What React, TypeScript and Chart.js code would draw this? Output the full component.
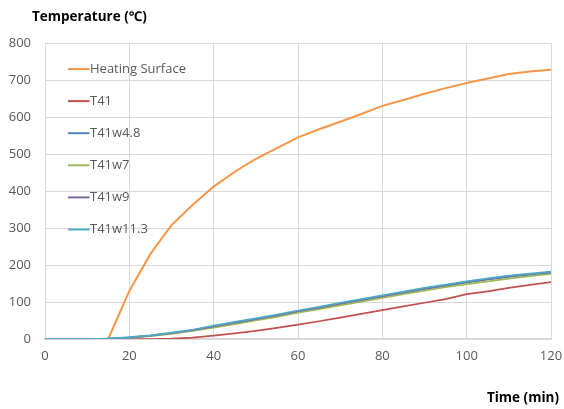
import React, { useEffect, useRef } from "react";
import { Chart, registerables } from "chart.js";

Chart.register(...registerables);

const times = [0, 5, 10, 15, 20, 25, 30, 35, 40, 45, 50, 55, 60, 65, 70, 75, 80, 85, 90, 95, 100, 105, 110, 115, 120];
const heatingSurface = [0, 0, 0, 0, 130, 230, 308, 362, 412, 452, 487, 516, 545, 567, 587, 608, 630, 646, 663, 678, 692, 704, 716, 723, 728];
const t41 = [0, 0, 0, 0, 0, 0, 1, 4, 9, 15, 22, 30, 39, 48, 58, 68, 78, 88, 98, 108, 121, 129, 138, 146, 154];
const t41w48 = [0, 0, 0, 1, 4, 9, 16, 24, 33, 43, 53, 63, 74, 84, 95, 105, 115, 125, 135, 144, 153, 161, 168, 174, 180];
const t41w7 = [0, 0, 0, 1, 3, 8, 14, 22, 31, 40, 50, 60, 71, 81, 91, 101, 111, 121, 131, 140, 148, 156, 163, 170, 176];
const t41w9 = [0, 0, 0, 1, 4, 9, 16, 24, 34, 44, 54, 64, 75, 85, 96, 106, 116, 126, 136, 145, 154, 162, 169, 175, 180];
const t41w113 = [0, 0, 0, 1, 5, 10, 17, 25, 36, 46, 56, 66, 77, 87, 98, 108, 118, 128, 138, 147, 156, 164, 171, 177, 182];

const seriesLabels = ["Heating Surface", "T41", "T41w4.8", "T41w7", "T41w9", "T41w11.3"];
const seriesValues = [heatingSurface, t41, t41w48, t41w7, t41w9, t41w113];
const seriesColors = ["#F79646", "#C0504D", "#4F81BD", "#9BBB59", "#8064A2", "#4BACC6"];

const yTitle = "Temperature (℃)";
const xTitle = "Time (min)";
const FONT = "'Open Sans', 'Noto Sans', sans-serif";

const overlayPlugin = {
  id: "overlay",
  afterDraw(chart: any) {
    const ctx = chart.ctx;
    ctx.save();
    // legend
    ctx.font = `13px ${FONT}`;
    ctx.textBaseline = "middle";
    ctx.textAlign = "left";
    chart.data.datasets.forEach((ds: any, i: number) => {
      const y = 69 + i * 32.1;
      ctx.strokeStyle = ds.borderColor;
      ctx.lineWidth = 2;
      ctx.beginPath();
      ctx.moveTo(68, y);
      ctx.lineTo(89.5, y);
      ctx.stroke();
      ctx.fillStyle = "#595959";
      ctx.fillText(ds.label, 90, y);
    });
    // axis titles
    ctx.fillStyle = "#000000";
    ctx.font = `bold 13.5px ${FONT}`;
    ctx.textAlign = "left";
    ctx.fillText(yTitle, 32, 17);
    ctx.textAlign = "right";
    ctx.fillText(xTitle, 559, 398);
    ctx.restore();
  },
};

export default function App() {
  const ref = useRef<HTMLCanvasElement>(null);
  useEffect(() => {
    const chart = new Chart(ref.current!, {
      type: "line",
      data: {
        datasets: seriesLabels.map((label, i) => ({
          label,
          data: times.map((t, j) => ({ x: t, y: seriesValues[i][j] })),
          borderColor: seriesColors[i],
          backgroundColor: seriesColors[i],
          borderWidth: i === 0 ? 2 : 1.75,
          pointRadius: 0,
          tension: 0,
          fill: false,
          order: seriesLabels.length - i,
        })),
      },
      options: {
        animation: false,
        responsive: false,
        maintainAspectRatio: false,
        layout: { padding: { left: 0, top: 43, right: 13, bottom: 40 } },
        plugins: { legend: { display: false }, tooltip: { enabled: false } },
        scales: {
          x: {
            type: "linear",
            min: 0,
            max: 120,
            ticks: { stepSize: 20, color: "#595959", font: { family: FONT, size: 13 }, padding: 9, maxRotation: 0 },
            grid: { color: "#D9D9D9", drawTicks: false, lineWidth: 1 },
            border: { display: true, color: "#D9D9D9", width: 2 },
            afterFit(s: any) { s.height = 30; s.paddingLeft = 0; s.paddingRight = 0; },
          },
          y: {
            min: 0,
            max: 800,
            ticks: { stepSize: 100, color: "#595959", font: { family: FONT, size: 13 }, padding: 14 },
            grid: { color: "#D9D9D9", drawTicks: false, lineWidth: 1 },
            border: { display: false },
            afterFit(s: any) { s.width = 45; s.paddingTop = 0; s.paddingBottom = 0; },
          },
        },
      },
      plugins: [overlayPlugin],
    });
    return () => chart.destroy();
  }, []);
  return (
    <div style={{ position: "fixed", left: 0, top: 0, width: 564, height: 409, background: "#fff" }}>
      <canvas ref={ref} width={564} height={409} style={{ display: "block", width: 564, height: 409 }} />
    </div>
  );
}
